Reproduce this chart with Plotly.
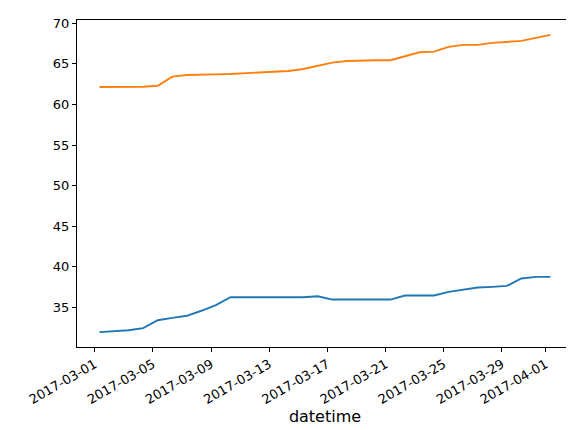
import pandas as pd
import plotly.graph_objects as go

# daily readings, 2017-03-01 .. 2017-04-01 (stamped ~08:00)
dates = pd.date_range("2017-03-01 08:00", periods=32, freq="D")
series_a = [31.97, 32.10, 32.20, 32.46, 33.44, 33.73, 33.98, 34.60, 35.29, 36.27,
            36.27, 36.27, 36.27, 36.27, 36.27, 36.39, 35.98, 35.98, 35.98, 35.98,
            35.98, 36.48, 36.48, 36.48, 36.93, 37.21, 37.46, 37.54, 37.66, 38.57,
            38.77, 38.77]
series_b = [62.14, 62.14, 62.14, 62.18, 62.30, 63.42, 63.62, 63.62, 63.70, 63.74,
            63.83, 63.87, 63.99, 64.12, 64.36, 64.77, 65.14, 65.35, 65.43, 65.43,
            65.43, 65.93, 66.42, 66.50, 67.08, 67.33, 67.33, 67.57, 67.70, 67.82,
            68.19, 68.56]
tick_dates = ["2017-03-01", "2017-03-05", "2017-03-09", "2017-03-13", "2017-03-17",
              "2017-03-21", "2017-03-25", "2017-03-29", "2017-04-01"]
y_ticks = [35, 40, 45, 50, 55, 60, 65, 70]

BLUE = "#1f77b4"
ORANGE = "#ff7f0e"

fig = go.Figure()
for vals, col in [(series_a, BLUE), (series_b, ORANGE)]:
    fig.add_trace(go.Scatter(x=dates, y=vals, mode="lines",
                             line=dict(color=col, width=1.9), showlegend=False))

# matplotlib-style 5% margins
span = dates[-1] - dates[0]
x_range = [dates[0] - 0.05 * span, dates[-1] + 0.05 * span]
lo = min(series_a + series_b)
hi = max(series_a + series_b)
pad = 0.05 * (hi - lo)

axis_common = dict(showline=True, linecolor="black", linewidth=1, mirror=True,
                   ticks="outside", ticklen=4, tickcolor="black", showgrid=False,
                   zeroline=False)

fig.update_layout(
    width=574, height=430,
    paper_bgcolor="white", plot_bgcolor="white",
    font=dict(family="DejaVu Sans", size=13, color="black"),
    margin=dict(l=69, r=9, t=12, b=91),
    xaxis=dict(range=x_range, tickvals=pd.to_datetime(tick_dates), ticktext=tick_dates,
               tickangle=-30, title=dict(text="datetime", standoff=4), **axis_common),
    yaxis=dict(range=[lo - pad, hi + pad], tickvals=y_ticks, **axis_common),
)

fig.write_html("out.html")
